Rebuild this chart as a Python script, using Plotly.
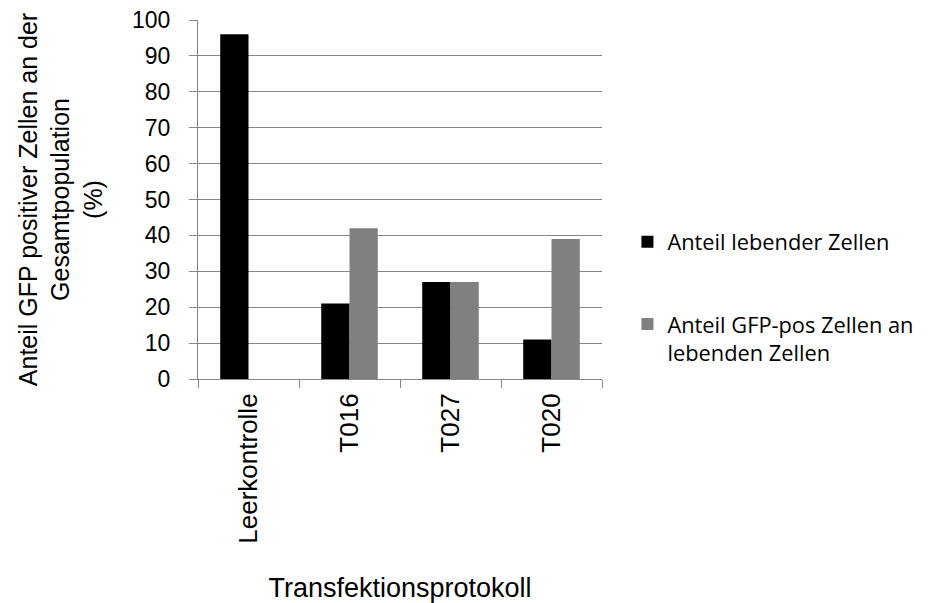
import plotly.graph_objects as go

categories = ["Leerkontrolle", "T016", "T027", "T020"]
series_names = ["Anteil lebender Zellen", "Anteil GFP-pos Zellen an<br>lebenden Zellen"]
lebend = [96, 21, 27, 11]
gfp_pos = [None, 42, 27, 39]
y_ticks = [0, 10, 20, 30, 40, 50, 60, 70, 80, 90, 100]

AX = "#868686"
fig = go.Figure()
fig.add_trace(go.Bar(x=categories, y=lebend, name=series_names[0],
                     marker=dict(color="#000000", line=dict(width=0)),
                     legendgroup="a"))
fig.add_trace(go.Bar(x=categories, y=gfp_pos, name=series_names[1],
                     marker=dict(color="#808080", line=dict(width=0)),
                     legendgroup="b"))

fig.update_layout(
    width=928, height=603,
    margin=dict(l=190, r=334, t=12, b=232, autoexpand=False),
    paper_bgcolor="white", plot_bgcolor="white",
    barmode="group", bargap=0.44, bargroupgap=0,
    font=dict(family="Liberation Sans, Arial, sans-serif", size=23, color="#000000"),
    legend=dict(x=1.063, y=0.44, xanchor="left", yanchor="top",
                traceorder="grouped", tracegroupgap=51, valign="top",
                font=dict(family="Open Sans, sans-serif", size=21.8, color="#000000"),
                itemwidth=30),
    showlegend=True,
)
fig.update_xaxes(
    type="category", tickangle=-90, tickson="boundaries",
    ticks="outside", ticklen=8, tickcolor=AX,
    showline=True, linecolor=AX, linewidth=1,
    showgrid=False, automargin=False,
    tickfont=dict(size=26), ticklabelstandoff=3,
    ticklabeloverflow="allow",
    title=dict(text="Transfektionsprotokoll", font=dict(size=27), standoff=35),
)
fig.update_yaxes(
    range=[0, 100], tickvals=y_ticks,
    ticks="outside", ticklen=8, tickcolor=AX,
    showline=True, linecolor=AX, linewidth=1,
    showgrid=True, gridcolor=AX, gridwidth=1,
    zeroline=False, automargin=False,
    tickfont=dict(size=23), ticklabelstandoff=14,
    ticklabeloverflow="allow",
    title=dict(text="Anteil GFP positiver Zellen an der<br>Gesamtpopulation<br>(%)",
               font=dict(size=25), standoff=22),
)

fig.write_html("out.html")
